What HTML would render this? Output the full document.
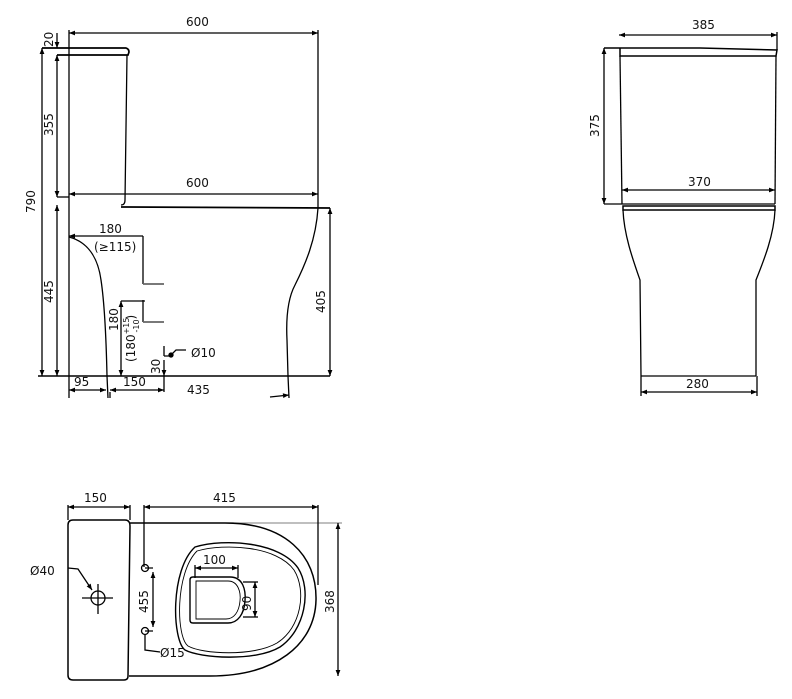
<!DOCTYPE html>
<html><head><meta charset="utf-8"><style>
html,body{margin:0;padding:0;background:#fff;}
svg{display:block;}
text{font-family:"DejaVu Sans","Liberation Sans",sans-serif;font-size:12px;fill:#111;}
.s{font-size:8px;}
</style></head><body>
<svg width="792" height="699" viewBox="0 0 792 699" xmlns="http://www.w3.org/2000/svg">
<defs>
<marker id="a" viewBox="0 0 10 10" refX="10" refY="5" markerWidth="8" markerHeight="6" orient="auto-start-reverse" markerUnits="userSpaceOnUse"><path d="M0,1 L10,5 L0,9 z" fill="#000"/></marker>
</defs>
<g fill="none" stroke="#000" stroke-width="1.3">
<!-- SIDE VIEW -->
<line x1="69" y1="33" x2="318" y2="33" marker-start="url(#a)" marker-end="url(#a)"/>
<line x1="69" y1="30" x2="69" y2="398"/>
<line x1="318" y1="30" x2="318" y2="208"/>
<path d="M42,48 L126,48 Q129,49 129,52 L128,55 L57,55" stroke-width="1.7"/>
<path d="M127,55 L125,200 Q125,205 121,205" />
<line x1="69" y1="194" x2="318" y2="194" marker-start="url(#a)" marker-end="url(#a)"/>
<path d="M121,207 L330,208" stroke-width="1.7"/>
<line x1="57" y1="197" x2="69" y2="197"/>
<line x1="42" y1="48" x2="42" y2="376" marker-start="url(#a)" marker-end="url(#a)"/>
<line x1="57" y1="33" x2="57" y2="48" marker-end="url(#a)"/>
<line x1="57" y1="55" x2="57" y2="197" marker-start="url(#a)" marker-end="url(#a)"/>
<line x1="57" y1="205" x2="57" y2="376" marker-start="url(#a)" marker-end="url(#a)"/>
<line x1="38" y1="376" x2="330" y2="376" stroke-width="1.6"/>
<path d="M69,237 C88,242 98,258 101,280 C104,300 106,330 107,376 L108,398"/>
<path d="M318,208 C316,240 305,265 295,285 C287,300 286,320 287,340 L288,376 L289,398"/>
<line x1="330" y1="208" x2="330" y2="376" marker-start="url(#a)" marker-end="url(#a)"/>
<line x1="69" y1="236" x2="143" y2="236" marker-start="url(#a)"/>
<line x1="143" y1="236" x2="143" y2="284"/>
<line x1="143" y1="300" x2="143" y2="322"/>
<line x1="143" y1="284" x2="164" y2="284" stroke="#666" stroke-width="1.7"/>
<line x1="143" y1="322" x2="164" y2="322" stroke="#666" stroke-width="1.7"/>
<line x1="121" y1="301" x2="145" y2="301"/>
<line x1="121" y1="301" x2="121" y2="376" marker-start="url(#a)" marker-end="url(#a)"/>
<line x1="164" y1="346" x2="164" y2="356"/>
<line x1="164" y1="376" x2="164" y2="392"/>
<line x1="164" y1="360" x2="164" y2="376" marker-end="url(#a)"/>
<path d="M164,356 L170,356 L176,350 L186,350"/>
<circle cx="171" cy="355" r="2" fill="#000"/>
<line x1="69" y1="390" x2="106" y2="390" marker-start="url(#a)" marker-end="url(#a)"/>
<line x1="110" y1="390" x2="164" y2="390" marker-start="url(#a)" marker-end="url(#a)"/>
<line x1="110" y1="392" x2="110" y2="398"/>
<line x1="270" y1="397" x2="289" y2="395" marker-end="url(#a)"/>

<!-- FRONT VIEW -->
<line x1="619" y1="35" x2="777" y2="35" marker-start="url(#a)" marker-end="url(#a)"/>
<line x1="777" y1="32" x2="777" y2="50"/>
<path d="M604,48 L700,48 L777,50 L776,56 L620,56 L620,48" stroke-width="1.5"/>
<line x1="604" y1="48" x2="604" y2="204" marker-start="url(#a)" marker-end="url(#a)"/>
<line x1="620" y1="56" x2="622" y2="204"/>
<line x1="776" y1="56" x2="775" y2="204"/>
<line x1="622" y1="190" x2="775" y2="190" marker-start="url(#a)" marker-end="url(#a)"/>
<line x1="604" y1="204" x2="775" y2="204"/>
<path d="M623,206 L775,206 L775,210 L623,210 Z" stroke-width="1.5"/>
<path d="M623,210 C624,235 633,260 640,280 L641,376"/>
<path d="M775,210 C774,235 764,260 756,280 L756,376"/>
<line x1="641" y1="376" x2="756" y2="376"/>
<line x1="641" y1="392" x2="757" y2="392" marker-start="url(#a)" marker-end="url(#a)"/>
<line x1="641" y1="376" x2="641" y2="396"/>
<line x1="757" y1="376" x2="757" y2="396"/>

<!-- TOP VIEW -->
<line x1="68" y1="507" x2="130" y2="507" marker-start="url(#a)" marker-end="url(#a)"/>
<line x1="68" y1="505" x2="68" y2="520"/>
<line x1="130" y1="505" x2="130" y2="520"/>
<path d="M73,520 L125,520 Q130,520 130,526 L128,676 Q128,680 124,680 L73,680 Q68,680 68,675 L68,525 Q68,520 73,520 Z" stroke-width="1.5"/>
<line x1="144" y1="507" x2="318" y2="507" marker-start="url(#a)" marker-end="url(#a)"/>
<line x1="144" y1="505" x2="144" y2="567"/>
<line x1="318" y1="505" x2="318" y2="585"/>
<line x1="130" y1="523" x2="342" y2="523" stroke-width="0.6"/>
<path d="M130,523 L225,523 C285,523 317,555 316,600 C315,645 275,676 210,676 L129,676" stroke-width="1.5"/>
<line x1="338" y1="523" x2="338" y2="676" marker-start="url(#a)" marker-end="url(#a)"/>
<path d="M195,547 C225,538 280,542 298,568 C312,590 305,630 280,647 C255,662 200,658 185,650 C172,640 170,570 195,547 Z" stroke-width="1.4"/>
<path d="M197,551 C225,543 277,546 294,570 C307,591 301,628 277,643 C253,657 202,654 188,646 C176,637 175,573 197,551 Z" stroke-width="0.9"/>
<path d="M193,577 L230,577 C243,577 246,590 245,601 C244,614 238,623 228,623 L193,623 Q190,623 190,620 L190,580 Q190,577 193,577 Z" stroke-width="1.4"/>
<path d="M196,581 L228,581 C238,581 241,592 240,601 C239,612 234,619 226,619 L196,619 Z" stroke-width="0.9"/>
<line x1="195" y1="568" x2="238" y2="568" marker-start="url(#a)" marker-end="url(#a)"/>
<line x1="195" y1="565" x2="195" y2="578"/>
<line x1="238" y1="565" x2="238" y2="578"/>
<line x1="243" y1="582" x2="258" y2="582"/>
<line x1="243" y1="617" x2="258" y2="617"/>
<line x1="255" y1="582" x2="255" y2="617" marker-start="url(#a)" marker-end="url(#a)"/>
<circle cx="145" cy="568" r="3.5"/>
<circle cx="145" cy="631" r="3.5"/>
<path d="M145,568 L153,568 M145,631 L153,631"/>
<line x1="153" y1="572" x2="153" y2="627" marker-start="url(#a)" marker-end="url(#a)"/>
<path d="M145,635 L145,650 L160,652"/>
<circle cx="98" cy="598" r="7"/>
<line x1="82" y1="598" x2="113" y2="598"/>
<line x1="98" y1="584" x2="98" y2="614"/>
<path d="M68,568 L78,569 L92,590" marker-end="url(#a)"/>
</g>
<!-- labels -->
<text x="186" y="26">600</text>
<text x="186" y="187">600</text>
<text x="692" y="29">385</text>
<text x="688" y="186">370</text>
<text x="686" y="388">280</text>
<text x="99" y="233">180</text>
<text x="94" y="251">(≥115)</text>
<text x="191" y="357">Ø10</text>
<text x="74" y="386">95</text>
<text x="123" y="386">150</text>
<text x="187" y="394">435</text>
<text x="84" y="502">150</text>
<text x="213" y="502">415</text>
<text x="203" y="564">100</text>
<text x="30" y="575">Ø40</text>
<text x="160" y="657">Ø15</text>
<text transform="translate(35,213) rotate(-90)">790</text>
<text transform="translate(53,47) rotate(-90)">20</text>
<text transform="translate(53,136) rotate(-90)">355</text>
<text transform="translate(53,303) rotate(-90)">445</text>
<text transform="translate(325,313) rotate(-90)">405</text>
<text transform="translate(118,331) rotate(-90)">180</text>
<text transform="translate(135,362) rotate(-90)">(180<tspan class="s" dy="-6">+15</tspan><tspan class="s" dx="-15" dy="10">-10</tspan><tspan dy="-4">)</tspan></text>
<text transform="translate(160,374) rotate(-90)">30</text>
<text transform="translate(599,137) rotate(-90)">375</text>
<text transform="translate(148,613) rotate(-90)">455</text>
<text transform="translate(251,611) rotate(-90)">90</text>
<text transform="translate(334,613) rotate(-90)">368</text>
</svg>
</body></html>
